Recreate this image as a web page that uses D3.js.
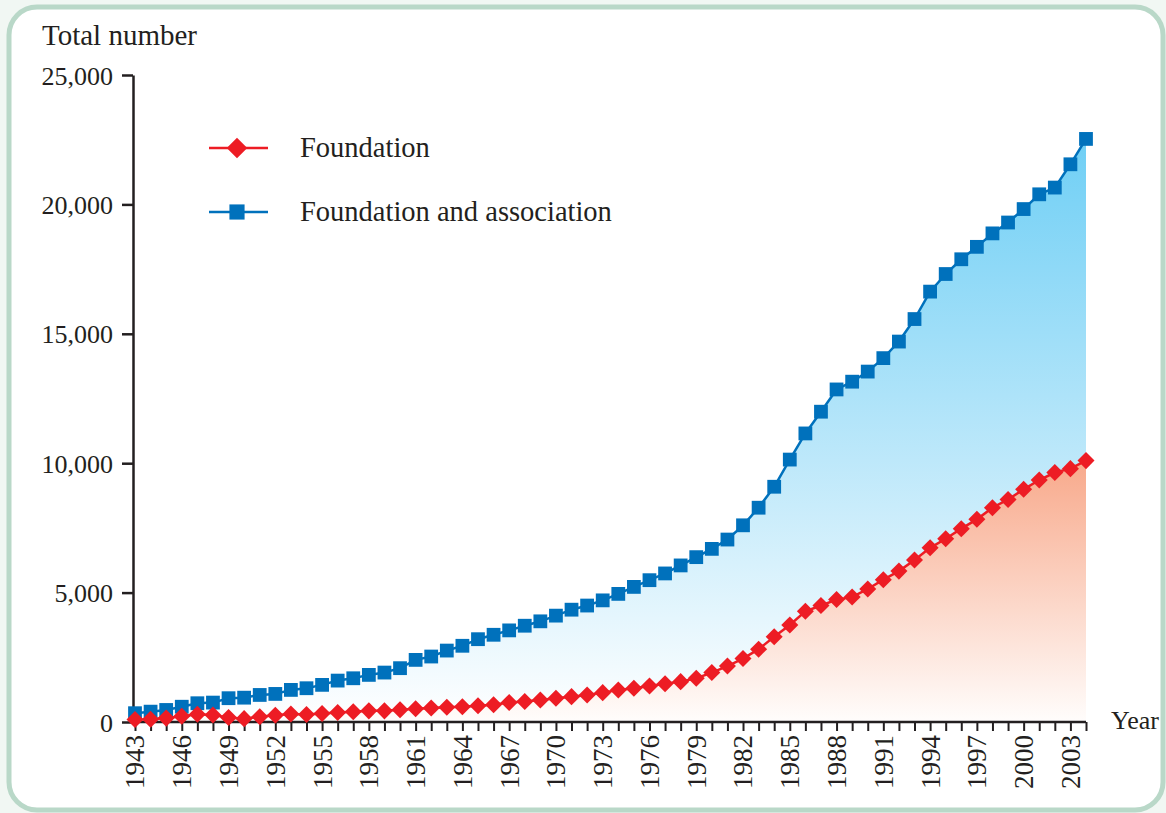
<!DOCTYPE html>
<html>
<head>
<meta charset="utf-8">
<script src="https://cdn.jsdelivr.net/npm/d3@7"></script>
<style>
  body { margin: 0; background: #f1f7f3; }
  svg text { font-family: "Liberation Serif", "Times New Roman", serif; fill: #231f20; }
</style>
</head>
<body>
<svg id="chart" width="1166" height="813" font-family="Liberation Serif, serif"></svg>
<script>
var width = 1166, height = 813

var years = d3.range(1943, 2005)

// total number of foundations
var foundation = [
  100, 110, 150, 220, 300, 270, 170, 130, 200, 260,
  310, 290, 330, 370, 400, 430, 430, 470, 510, 540,
  570, 590, 630, 670, 750, 790, 850, 920, 980, 1045,
  1135, 1240, 1305, 1395, 1475, 1560, 1690, 1910, 2160, 2450,
  2815, 3290, 3750, 4280, 4500, 4730, 4830, 5140, 5500, 5830,
  6260, 6730, 7080, 7470, 7830, 8280, 8600, 8990, 9350, 9640,
  9790, 10100
]

// foundations and associations together
var foundAssoc = [
  340, 400, 465, 590, 725, 750, 920, 940, 1045, 1085,
  1240, 1305, 1435, 1600, 1690, 1820, 1910, 2080, 2400, 2530,
  2760, 2945, 3200, 3370, 3540, 3720, 3890, 4110, 4340, 4500,
  4700, 4950, 5220, 5480, 5740, 6050, 6370, 6690, 7050, 7600,
  8280, 9090, 10140, 11150, 11990, 12850, 13150, 13540, 14060, 14700,
  15570, 16630, 17310, 17880, 18360, 18880, 19300, 19820, 20390, 20650,
  21550, 22530
]

var yTicks = [0, 5000, 10000, 15000, 20000, 25000]
var yearLabels = d3.range(1943, 2004, 3)

var x = d3.scaleLinear().domain([1943, 2004]).range([135, 1086])
var y = d3.scaleLinear().domain([0, 25000]).range([722, 75])

var serif = '"Liberation Serif", "Times New Roman", serif'
var svg = d3.select('#chart')

// frame
svg.append('rect')
  .attr('x', 9).attr('y', 7)
  .attr('width', 1154).attr('height', 803)
  .attr('rx', 28)
  .attr('fill', '#fff')
  .attr('stroke', '#b9d8c8')
  .attr('stroke-width', 5)

var defs = svg.append('defs')
var gb = defs.append('linearGradient').attr('id', 'gBlue')
  .attr('gradientUnits', 'userSpaceOnUse')
  .attr('x1', 0).attr('x2', 0).attr('y1', y(22530)).attr('y2', y(0))
gb.append('stop').attr('offset', 0).attr('stop-color', '#6fcff5')
gb.append('stop').attr('offset', 0.55).attr('stop-color', '#bde8fa')
gb.append('stop').attr('offset', 1).attr('stop-color', '#ffffff')

var gr = defs.append('linearGradient').attr('id', 'gRed')
  .attr('gradientUnits', 'userSpaceOnUse')
  .attr('x1', 0).attr('x2', 0).attr('y1', y(10100)).attr('y2', y(0))
gr.append('stop').attr('offset', 0).attr('stop-color', '#f8a98b')
gr.append('stop').attr('offset', 1).attr('stop-color', '#fffdfc')

var area = function(vals) {
  return d3.area()
    .x((d, i) => x(years[i]))
    .y0(y(0))
    .y1(d => y(d))(vals)
}
var line = function(vals) {
  return d3.line()
    .x((d, i) => x(years[i]))
    .y(d => y(d))(vals)
}

svg.append('path').attr('d', area(foundAssoc)).attr('fill', 'url(#gBlue)')
svg.append('path').attr('d', area(foundation)).attr('fill', 'url(#gRed)')

// axes
var yAxis = svg.append('g')
  .attr('transform', 'translate(133,0)')
  .call(d3.axisLeft(y).tickValues(yTicks).tickFormat(d3.format(',')).tickSize(11).tickSizeOuter(0).tickPadding(9))
yAxis.attr('font-family', serif).attr('font-size', null)
yAxis.select('.domain').attr('stroke', '#231f20').attr('stroke-width', 2.5)
yAxis.selectAll('.tick line').attr('stroke', '#231f20').attr('stroke-width', 2.5)
yAxis.selectAll('.tick text').style('font-size', '26px').attr('dy', '0.35em')

var xAxis = svg.append('g')
  .attr('transform', 'translate(0,' + y(0) + ')')
  .call(d3.axisBottom(x).tickValues(years).tickSize(9).tickSizeOuter(0).tickFormat(d => yearLabels.includes(d) ? d : ''))
xAxis.attr('font-family', serif).attr('font-size', null)
xAxis.select('.domain').attr('stroke', '#231f20').attr('stroke-width', 2.5)
  .attr('d', 'M' + (x(1943) - 2) + ',0H' + x(2004))
xAxis.selectAll('.tick line').attr('stroke', '#231f20').attr('stroke-width', 2)
xAxis.selectAll('.tick text')
  .style('font-size', '27px')
  .attr('text-anchor', 'end')
  .attr('transform', 'rotate(-90)')
  .attr('x', -13).attr('y', 0).attr('dy', '0.33em')

// lines and markers
svg.append('path').attr('d', line(foundAssoc)).attr('fill', 'none')
  .attr('stroke', '#0071bc').attr('stroke-width', 2.5)
svg.append('path').attr('d', line(foundation)).attr('fill', 'none')
  .attr('stroke', '#ed1c24').attr('stroke-width', 2.5)

var sq = d3.symbol().type(d3.symbolSquare).size(190)
var dia = d3.symbol().type(d3.symbolSquare).size(145)

svg.append('g').selectAll('path')
  .data(foundAssoc)
  .enter().append('path')
  .attr('d', sq)
  .attr('transform', (d, i) => 'translate(' + x(years[i]) + ',' + y(d) + ')')
  .attr('fill', '#0071bc')

svg.append('g').selectAll('path')
  .data(foundation)
  .enter().append('path')
  .attr('d', dia)
  .attr('transform', (d, i) => 'translate(' + x(years[i]) + ',' + y(d) + ') rotate(45)')
  .attr('fill', '#ed1c24')

// axis titles
svg.append('text').attr('x', 42).attr('y', 45).attr('font-family', serif)
  .style('font-size', '29px').text('Total number')
svg.append('text').attr('x', 1111).attr('y', 729).attr('font-family', serif)
  .style('font-size', '26px').text('Year')

// legend
var legend = [
  {name: 'Foundation', color: '#ed1c24', shape: 'diamond'},
  {name: 'Foundation and association', color: '#0071bc', shape: 'square'}
]
var lg = svg.append('g').selectAll('g')
  .data(legend)
  .enter().append('g')
  .attr('transform', (d, i) => 'translate(0,' + (148 + i * 64) + ')')
lg.append('line').attr('x1', 209).attr('x2', 268)
  .attr('stroke', d => d.color).attr('stroke-width', 2.5)
lg.append('path')
  .attr('d', d => d.shape == 'square' ? d3.symbol().type(d3.symbolSquare).size(230)() : d3.symbol().type(d3.symbolSquare).size(210)())
  .attr('transform', d => 'translate(237,0)' + (d.shape == 'diamond' ? ' rotate(45)' : ''))
  .attr('fill', d => d.color)
lg.append('text').attr('x', 300).attr('y', 9).attr('font-family', serif)
  .style('font-size', '28.5px').text(d => d.name)
</script>
</body>
</html>
